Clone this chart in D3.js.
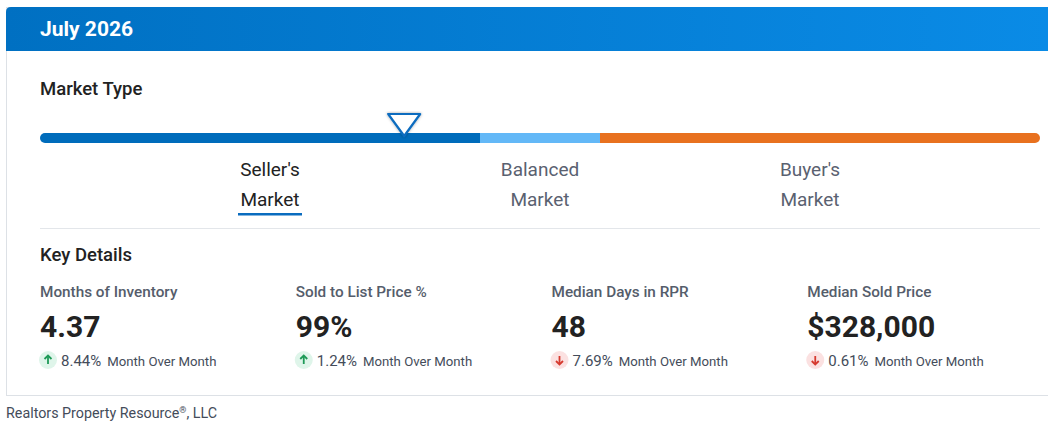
<!DOCTYPE html>
<html><head><meta charset="utf-8">
<script src="https://cdn.jsdelivr.net/npm/d3@7"></script>
<style>
body{margin:0;background:#fff;font-family:Roboto,"Noto Sans",sans-serif;}
</style></head>
<body><svg id="c" width="1048" height="424"></svg>
<script>
// data
const monthLabel = 'July 2026';
const marketTypes = ["Seller's|Market", 'Balanced|Market', "Buyer's|Market"];
const marketBreaks = [0, 5.28, 6.72, 12];   // months of inventory boundaries
const marketColors = ['#006cbb', '#63b8f7', '#e8711f'];
const currentMonths = 4.37;
const selectedType = 0;
const metricNames = ['Months of Inventory', 'Sold to List Price %', 'Median Days in RPR', 'Median Sold Price'];
const metricValues = ['4.37', '99%', '48', '$328,000'];
const metricChanges = [8.44, 1.24, -7.69, -0.61];

const svg = d3.select('#c');
const W = 1048;

// card
svg.append('rect').attr('x', 6.5).attr('y', 7.5).attr('width', W).attr('height', 388)
  .attr('fill', '#fff').attr('stroke', '#dde1e6');
const grad = svg.append('defs').append('linearGradient').attr('id', 'hg');
grad.append('stop').attr('offset', '0%').attr('stop-color', '#0070c2');
grad.append('stop').attr('offset', '100%').attr('stop-color', '#0a8be6');
svg.append('path').attr('d', `M6,51 V12 Q6,7 11,7 H${W} V51 Z`).attr('fill', 'url(#hg)');
svg.append('text').text(monthLabel).attr('x', 40).attr('y', 36)
  .attr('fill', '#fff').attr('font-size', 21).attr('font-weight', 700);

svg.append('text').text('Market Type').attr('x', 40).attr('y', 95)
  .attr('fill', '#222').attr('font-size', 18.5).attr('font-weight', 500);

// bar
const x = d3.scaleLinear().domain([0, 12]).range([40, 1040]);
const bar = svg.append('g');
const clip = svg.append('clipPath').attr('id', 'bc');
clip.append('rect').attr('x', 40).attr('y', 133).attr('width', 1000).attr('height', 10).attr('rx', 5);
bar.attr('clip-path', 'url(#bc)').selectAll('rect').data(marketColors).join('rect')
  .attr('x', (d, i) => x(marketBreaks[i])).attr('y', 133)
  .attr('width', (d, i) => x(marketBreaks[i + 1]) - x(marketBreaks[i])).attr('height', 10)
  .attr('fill', d => d);

// marker
const mx = x(currentMonths);
svg.append('filter').attr('id', 'sh').append('feDropShadow')
  .attr('dx', 0).attr('dy', 0).attr('stdDeviation', 1.5).attr('flood-opacity', 0.35);
svg.append('path').attr('d', `M${mx - 16},114 H${mx + 16} L${mx},136 Z`)
  .attr('fill', '#fff').attr('stroke', '#0a6cbf').attr('stroke-width', 2.2)
  .attr('stroke-linejoin', 'round').attr('filter', 'url(#sh)');

// market labels
const centers = [270, 540, 810];
marketTypes.forEach((t, i) => {
  const parts = t.split('|');
  const g = svg.append('text').attr('text-anchor', 'middle').attr('font-size', 19)
    .attr('fill', i === selectedType ? '#222' : '#5a6170');
  parts.forEach((p, j) => g.append('tspan').attr('x', centers[i]).attr('y', 176 + j * 30).text(p));
  if (i === selectedType) {
    svg.append('rect').attr('x', centers[i] - 32).attr('y', 213).attr('width', 64).attr('height', 2.5).attr('fill', '#0a6cbf');
  }
});

svg.append('line').attr('x1', 40).attr('x2', 1040).attr('y1', 228.5).attr('y2', 228.5).attr('stroke', '#e3e6ea');

svg.append('text').text('Key Details').attr('x', 40).attr('y', 261)
  .attr('fill', '#222').attr('font-size', 18.5).attr('font-weight', 500);

// metrics
const cx = d3.scaleBand().domain(d3.range(4)).range([40, 1063]);
metricNames.forEach((n, i) => {
  const g = svg.append('g').attr('transform', `translate(${cx(i)},0)`);
  g.append('text').text(n).attr('y', 297).attr('fill', '#555d6b').attr('font-size', 15.3).attr('font-weight', 500);
  g.append('text').text(metricValues[i]).attr('y', 337).attr('fill', '#222').attr('font-size', 30).attr('font-weight', 700);
  const up = metricChanges[i] >= 0;
  g.append('circle').attr('cx', 8).attr('cy', 360).attr('r', 9).attr('fill', up ? '#dff5ea' : '#fbe1e1');
  const ac = up ? '#1e9a57' : '#d63a2f';
  const dir = up ? -1 : 1;
  g.append('line').attr('x1', 8).attr('x2', 8).attr('y1', 360 - dir * 4).attr('y2', 360 + dir * 4)
    .attr('stroke', ac).attr('stroke-width', 1.8);
  g.append('path').attr('d', `M4.5,${360 + dir * 1} L8,${360 + dir * 4.5} L11.5,${360 + dir * 1}`)
    .attr('fill', 'none').attr('stroke', ac).attr('stroke-width', 1.8);
  const t = g.append('text').attr('x', 21).attr('y', 366).attr('fill', '#444c5a');
  t.append('tspan').attr('font-size', 15).text(Math.abs(metricChanges[i]).toFixed(2) + '%');
  t.append('tspan').attr('dx', 6).attr('font-size', 13.2).text('Month Over Month');
});

svg.append('text').attr('x', 6).attr('y', 418).attr('fill', '#444c5a').attr('font-size', 14.3)
  .html('Realtors Property Resource<tspan font-size="9" dy="-5">®</tspan><tspan dy="5">, LLC</tspan>');
</script></body></html>
